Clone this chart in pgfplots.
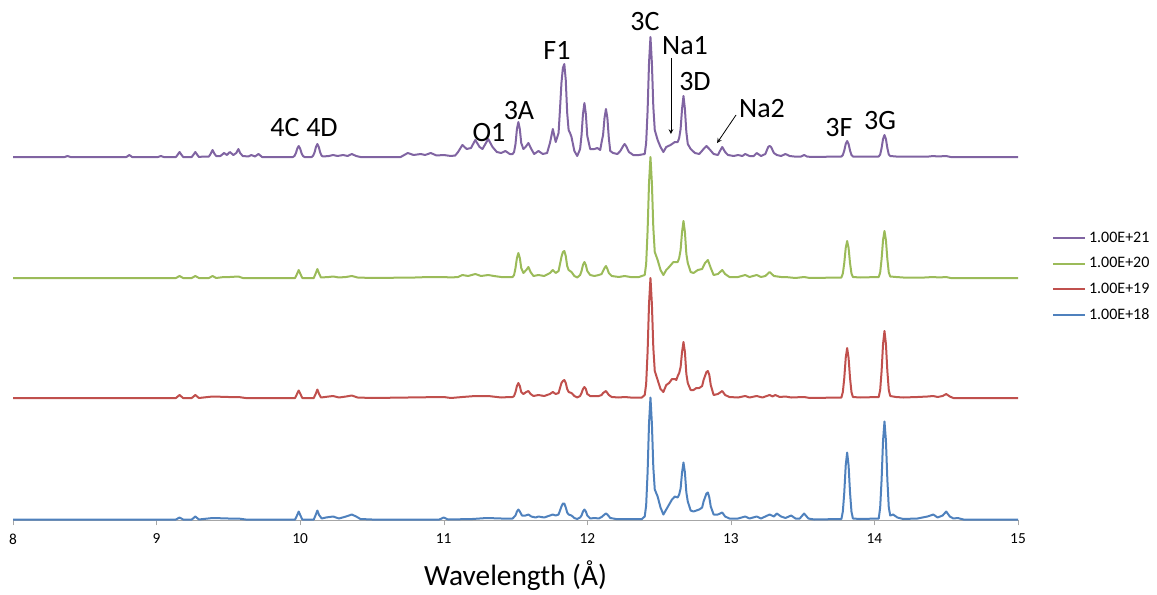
\documentclass[border=0pt]{standalone}
\usepackage{pgfplots}
\pgfplotsset{compat=1.18}
\usepackage{pgfplotstable}
\usepackage{fontspec}
\setmainfont{Carlito}
\definecolor{cpurple}{HTML}{8064A2}
\definecolor{cgreen}{HTML}{9BBB59}
\definecolor{cred}{HTML}{C0504D}
\definecolor{cblue}{HTML}{4F81BD}

\pgfplotstableread{
x y
8.00 0
8.36 0
8.38 1
8.40 0
8.79 0
8.81 2
8.83 0
9.01 0
9.03 1
9.05 0
9.135 0
9.148 2.5
9.16 5
9.172 2.5
9.185 0
9.245 0
9.258 2.5
9.27 5
9.282 2.5
9.295 0
9.33 0.5
9.365 0.5
9.378 3.5
9.39 7
9.402 3.5
9.415 1
9.445 1
9.47 4
9.49 2
9.51 5
9.535 2
9.555 4
9.57 8
9.582 4
9.60 1
9.64 0.5
9.66 2
9.685 0.5
9.71 3
9.735 0
9.95 0
9.96 1
9.97 3.7
9.98 8.4
9.99 11
10.00 8.4
10.01 3.7
10.02 1
10.03 0
10.08 0
10.09 1.2
10.10 4.4
10.11 9.9
10.12 13
10.13 9.9
10.14 4.4
10.15 1.2
10.16 0.5
10.20 1
10.23 2
10.26 1
10.30 2
10.33 1
10.36 3
10.39 1
10.42 0
10.70 0
10.75 4
10.79 2
10.84 3
10.87 2
10.91 4
10.95 1.5
11.00 2
11.05 1
11.08 1.5
11.10 5
11.13 12
11.16 8
11.19 9
11.22 17
11.25 10
11.27 8
11.31 18
11.34 10
11.37 5
11.40 4
11.43 6
11.46 3
11.48 3
11.49 5
11.50 13
11.51 28
11.52 35
11.53 28
11.54 14
11.555 8
11.57 10
11.59 14
11.61 8
11.63 3
11.66 6
11.69 3
11.72 4
11.74 14
11.76 28
11.78 15
11.80 24
11.81 48
11.82 74
11.83 89
11.84 93
11.85 77
11.86 44
11.87 27
11.88 24
11.89 20
11.91 6
11.93 1
11.95 8
11.96 22
11.97 43
11.98 54
11.99 43
12.00 21
12.02 8
12.05 8
12.07 9
12.09 7
12.10 15
12.11 22
12.12 39
12.13 48
12.14 39
12.15 19
12.16 6
12.18 4
12.21 3
12.23 6
12.25 11
12.26 13
12.27 11
12.29 5
12.32 2
12.36 2
12.40 3
12.41 14
12.42 46
12.43 94
12.44 120
12.45 94
12.46 50
12.47 27
12.49 17
12.51 10
12.53 5
12.55 10
12.58 12
12.61 15
12.63 15
12.64 19
12.65 28
12.66 48
12.67 61
12.68 48
12.69 25
12.70 13
12.72 8
12.75 4
12.78 3
12.81 8
12.83 11
12.85 8
12.88 3
12.91 2
12.92 5
12.94 10
12.96 5
12.98 2
13.02 1
13.05 2
13.08 1
13.10 3
13.13 1
13.16 1
13.18 4
13.21 1
13.24 3
13.26 10
13.27 11
13.28 10
13.30 4
13.32 2
13.35 1
13.38 3
13.41 1
13.44 0.5
13.49 0.5
13.51 2
13.53 0.5
13.56 0
13.77 0.5
13.78 2
13.79 6.5
13.80 13
13.81 16
13.82 13
13.83 6.5
13.84 2
13.85 0.5
13.90 0.5
14.03 0.5
14.04 2.5
14.05 9
14.06 18
14.07 22
14.08 18
14.09 9
14.10 2.5
14.11 1
14.15 0.5
14.25 0.5
14.38 0.5
14.41 1
14.44 0.5
14.50 1
14.53 0
15.00 0
}\purple

\pgfplotstableread{
x y
8.00 0
9.135 0
9.16 2
9.185 0
9.245 0
9.27 2
9.295 0
9.365 0
9.39 2
9.415 0
9.47 1
9.51 1
9.57 1.5
9.60 0
9.965 0
9.978 4
9.99 8
10.002 4
10.015 0
10.095 0
10.108 4.5
10.12 9
10.132 4.5
10.145 0.5
10.20 1
10.23 1.5
10.27 0.5
10.32 1
10.36 2
10.40 0.5
10.50 0
10.80 0.5
10.90 1
11.00 1
11.05 0.5
11.10 1
11.13 3
11.17 2
11.22 4
11.26 2
11.31 3
11.35 2
11.40 1
11.46 1
11.48 1
11.49 3
11.50 10
11.51 20
11.52 25
11.53 20
11.54 10
11.555 5
11.575 8
11.59 11
11.605 6
11.625 2
11.66 3
11.70 2
11.74 5
11.76 8
11.78 5
11.80 7
11.81 14
11.82 21
11.83 26
11.84 27
11.85 22
11.86 12
11.87 8
11.89 6
11.91 2
11.93 0.5
11.95 3
11.96 7
11.97 13
11.98 16
11.99 13
12.00 7
12.02 3
12.05 2
12.08 3
12.10 4
12.11 7
12.12 10
12.13 12
12.14 9
12.15 5
12.17 2
12.22 1
12.26 2
12.30 1
12.36 1
12.40 3
12.41 14
12.42 47
12.43 95
12.44 121
12.45 95
12.46 50
12.47 26
12.49 18
12.51 8
12.53 3
12.55 8
12.57 11
12.60 16
12.63 16
12.64 20
12.65 28
12.66 46
12.67 57
12.68 46
12.69 24
12.70 15
12.72 6
12.74 5
12.77 8
12.80 9
12.82 15
12.84 18
12.86 10
12.88 3
12.91 4
12.94 8
12.96 4
12.99 1
13.05 1
13.10 3
13.13 1
13.18 3
13.21 1
13.24 2
13.27 6
13.30 2
13.35 1
13.38 1
13.45 0
13.51 1
13.55 0
13.77 0.5
13.78 4.5
13.79 15
13.80 30
13.81 37
13.82 30
13.83 15
13.84 4.5
13.85 1
13.90 0.5
14.03 1
14.04 5.5
14.05 19
14.06 38
14.07 47
14.08 38
14.09 19
14.10 5.5
14.11 1.5
14.15 1
14.20 0.5
14.35 0.5
14.41 1
14.45 0.5
14.50 1
14.53 0
15.00 0
}\green

\pgfplotstableread{
x y
8.00 0
9.135 0
9.16 3
9.185 0
9.245 0
9.27 3
9.295 0
9.39 1.5
9.50 1
9.57 1
9.62 0
9.965 0
9.978 4
9.99 7.5
10.002 4
10.015 0
10.095 0
10.108 4
10.12 8.5
10.132 4
10.145 0.5
10.20 1.5
10.23 2
10.27 0.5
10.32 1.5
10.36 2.5
10.40 0.5
10.50 0
11.00 1
11.05 0
11.13 1
11.22 2
11.31 2
11.40 0.5
11.46 1
11.48 1
11.49 2
11.50 6
11.51 12
11.52 15
11.53 12
11.54 6
11.555 4
11.575 6
11.59 7
11.605 4
11.625 2
11.66 3
11.70 2
11.74 4
11.76 6
11.78 4
11.80 5
11.81 10
11.82 15
11.83 17
11.84 18
11.85 15
11.86 9
11.87 6
11.89 5
11.91 2
11.93 0.5
11.95 2
11.96 5
11.97 9
11.98 11
11.99 9
12.00 4
12.02 2
12.05 2
12.08 2
12.10 3
12.11 5
12.12 6
12.13 7
12.14 5
12.15 3
12.17 1
12.22 0.5
12.26 1
12.30 0.5
12.38 0.5
12.40 3
12.41 14
12.42 46
12.43 94
12.44 120
12.45 94
12.46 50
12.47 27
12.49 18
12.51 9
12.53 6
12.55 13
12.57 15
12.59 19
12.61 19
12.62 18
12.63 22
12.64 25
12.65 31
12.66 46
12.67 56
12.68 46
12.69 24
12.70 15
12.72 8
12.74 8
12.76 10
12.78 10
12.80 12
12.81 18
12.83 26
12.84 27
12.85 23
12.86 13
12.88 3
12.91 4
12.94 7
12.96 3
12.99 1
13.05 0.5
13.10 2
13.13 0.5
13.18 2
13.22 0.5
13.25 2
13.27 3
13.29 1.5
13.31 3
13.34 1
13.38 1.5
13.42 0.5
13.51 1
13.55 0
13.77 0.5
13.78 6
13.79 20
13.80 40
13.81 50
13.82 40
13.83 20
13.84 6
13.85 1
13.90 0.5
14.03 1
14.04 8
14.05 27
14.06 54
14.07 67
14.08 54
14.09 27
14.10 8
14.11 2
14.15 1
14.20 0.5
14.30 1
14.37 1.5
14.41 2
14.44 1
14.475 2
14.50 4
14.525 1.5
14.55 0
15.00 0
}\red

\pgfplotstableread{
x y
8.00 0
9.135 0
9.16 2
9.185 0
9.245 0
9.27 3
9.295 0
9.39 1.5
9.50 1
9.57 1
9.62 0
9.965 0
9.978 4
9.99 8
10.002 4
10.015 0
10.095 0
10.108 4.5
10.12 9
10.132 4.5
10.15 1
10.18 2
10.23 3
10.27 1
10.32 3
10.36 5
10.39 3
10.42 0.5
10.50 0
10.97 0
11.00 2
11.03 0
11.20 0.5
11.30 1.5
11.40 1
11.46 1
11.48 1
11.50 4
11.51 8
11.52 10
11.53 8
11.545 4
11.57 4
11.59 5
11.61 3
11.64 2
11.66 3
11.70 2
11.74 4
11.76 5
11.78 4
11.80 5
11.81 9
11.82 13
11.83 16
11.84 16
11.85 12
11.86 7
11.87 5
11.89 4
11.91 1.5
11.93 0.5
11.95 2
11.96 4
11.97 8
11.98 10
11.99 8
12.00 4
12.02 1
12.05 1.5
12.08 1
12.10 2.5
12.12 5
12.13 6
12.14 5
12.16 1.5
12.20 0.5
12.26 0.5
12.38 0.5
12.40 3
12.41 14
12.42 47
12.43 96
12.44 122
12.45 96
12.46 52
12.47 30
12.49 23
12.51 12
12.53 5
12.55 10
12.57 15
12.59 20
12.61 23
12.63 22
12.64 25
12.65 31
12.66 47
12.67 57
12.68 47
12.69 27
12.70 18
12.72 9
12.74 8
12.76 9
12.78 10
12.80 12
12.81 18
12.83 26
12.84 27
12.85 22
12.86 13
12.88 5
12.91 5
12.94 7
12.96 3
12.99 1
13.05 1
13.10 3
13.13 1
13.18 3
13.21 1
13.24 3
13.27 5
13.30 3
13.32 6
13.35 3
13.38 1.5
13.42 4
13.45 1
13.48 1
13.51 6
13.54 1
13.58 0
13.77 0.5
13.78 8
13.79 27
13.80 54
13.81 67
13.82 54
13.83 27
13.84 8
13.85 1
13.90 0.5
14.03 1
14.04 12
14.05 40
14.06 79
14.07 98
14.08 79
14.09 40
14.10 12
14.11 4
14.13 5
14.16 2
14.20 0.5
14.30 1
14.37 3
14.41 5
14.44 2
14.475 4
14.50 8
14.525 3
14.55 1
14.58 1.5
14.62 0
15.00 0
}\blue

\begin{document}
\begin{tikzpicture}
\begin{axis}[
  scale only axis,
  width=753.75pt, height=390pt,
  xmin=8, xmax=15, ymin=0, ymax=520,
  axis x line=bottom, axis y line=none,
  axis line style={-, draw=gray!70},
  xtick={8,...,15},
  tick align=outside,
  major tick length=4pt,
  tick style={draw=gray!70},
  minor tick num=0,
  /pgf/number format/assume math mode=true,
  ticklabel style={font=\fontsize{11.5}{13}\selectfont},
  xticklabel style={yshift=-3pt},
  xlabel={Wavelength (Å)},
  xlabel style={font=\fontsize{22}{25}\selectfont, yshift=-5pt},
  legend cell align=left,
  legend style={draw=none, fill=none, font=\fontsize{12}{14}\selectfont,
    at={(rel axis cs:1.03,0.565)}, anchor=north west,
    row sep=6pt},
  legend image code/.code={\draw[#1, line width=1.5pt] (0pt,0pt) -- (24pt,0pt);},
  every axis plot/.append style={line width=1.5pt, line join=round},
  clip=false,
]
\addplot[cpurple] table[x=x, y expr=\thisrow{y}+363] {\purple};
\addlegendentry{1.00E+21}
\addplot[cgreen] table[x=x, y expr=\thisrow{y}+242] {\green};
\addlegendentry{1.00E+20}
\addplot[cred] table[x=x, y expr=\thisrow{y}+122] {\red};
\addlegendentry{1.00E+19}
\addplot[cblue] table[x=x, y expr=\thisrow{y}+0.5] {\blue};
\addlegendentry{1.00E+18}

\begin{scope}[every node/.style={font=\fontsize{21}{24}\selectfont, inner sep=0pt}]
\node at (axis cs:9.894,392) {4C};
\node at (axis cs:10.152,392) {4D};
\node at (axis cs:11.315,387) {O1};
\node at (axis cs:11.524,409) {3A};
\node at (axis cs:11.789,470) {F1};
\node at (axis cs:12.402,498) {3C};
\node at (axis cs:12.681,474) {Na1};
\node at (axis cs:12.750,438) {3D};
\node at (axis cs:13.217,411) {Na2};
\node at (axis cs:13.753,392) {3F};
\node at (axis cs:14.039,399) {3G};
\end{scope}
\draw[-stealth, line width=0.6pt] (axis cs:12.583,462) -- (axis cs:12.583,386);
\draw[-stealth, line width=0.6pt] (axis cs:13.036,405) -- (axis cs:12.904,377);
\end{axis}
\pgfresetboundingbox
\path[use as bounding box] (-9.75pt,-55.5pt) rectangle (858pt,390pt);
\end{tikzpicture}
\end{document}
